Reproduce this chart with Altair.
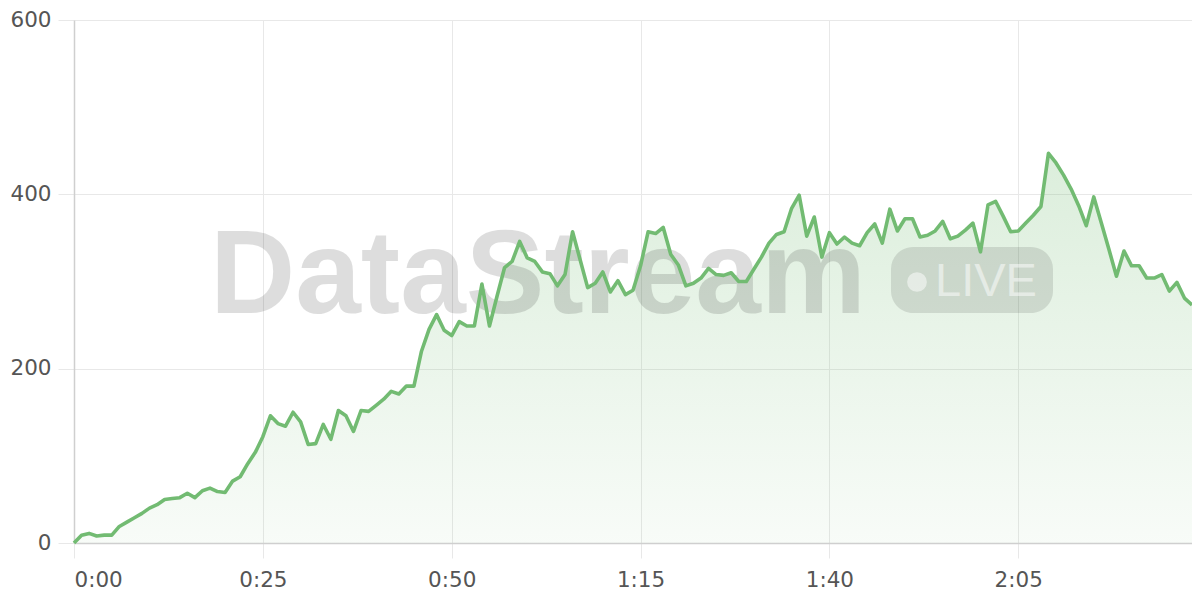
import altair as alt
import pandas as pd

# seconds elapsed (one sample per second)
t = list(range(149))
values = [
    0, 9, 11, 8, 9, 9, 19, 24, 29, 34,
    40, 44, 50, 51, 52, 57, 52, 60, 63, 59,
    58, 71, 76, 91, 104, 122, 146, 137, 134, 150,
    139, 113, 114, 136, 119, 152, 146, 128, 152, 151,
    158, 165, 174, 171, 180, 180, 220, 245, 262, 244,
    238, 254, 249, 249, 297, 249, 283, 316, 323, 346,
    327, 323, 311, 309, 295, 308, 357, 325, 293, 298,
    311, 288, 301, 285, 290, 318, 357, 355, 362, 331,
    319, 295, 298, 304, 315, 308, 307, 310, 300, 300,
    314, 328, 344, 354, 357, 384, 399, 352, 374, 328,
    356, 343, 351, 344, 341, 356, 366, 344, 383, 358,
    372, 372, 351, 353, 358, 369, 349, 352, 359, 367,
    334, 388, 392, 375, 357, 358, 367, 376, 386, 447,
    436, 422, 406, 387, 364, 397, 367, 337, 306, 335,
    318, 318, 304, 304, 308, 289, 299, 281, 273,
]
x_ticks = [0, 25, 50, 75, 100, 125]
y_ticks = [0, 200, 400, 600]

df = pd.DataFrame({"t": t, "v": values})

GREEN = "#72bb72"
W, H = 1118, 523

x_enc = alt.X(
    "t:Q",
    scale=alt.Scale(domain=[0, 148], nice=False, zero=False),
    axis=alt.Axis(
        values=x_ticks,
        labelExpr="floor(datum.value/60) + ':' + (datum.value % 60 < 10 ? '0' : '') + (datum.value % 60)",
        title=None,
        tickSize=15,
        labelPadding=11,
    ),
)
y_enc = alt.Y(
    "v:Q",
    scale=alt.Scale(domain=[0, 600], nice=False),
    axis=alt.Axis(values=y_ticks, title=None, tickSize=16, labelPadding=7),
)

area = alt.Chart(df).mark_area(
    color=alt.Gradient(
        gradient="linear",
        stops=[
            alt.GradientStop(color="rgba(114,187,114,0.25)", offset=0),
            alt.GradientStop(color="rgba(114,187,114,0.05)", offset=1),
        ],
        x1=1, x2=1, y1=0, y2=1,
    ),
).encode(x=x_enc, y=y_enc)

line = alt.Chart(df).mark_line(
    color=GREEN, strokeWidth=3.6, strokeJoin="round"
).encode(x="t:Q", y="v:Q")

one = alt.Data(values=[{"k": 1}])

wm_text = alt.Chart(one).mark_text(
    text="DataStream", font="Liberation Sans", fontWeight="bold", fontSize=118,
    align="left", baseline="alphabetic", color="black", opacity=0.13,
).encode(x=alt.value(136), y=alt.value(293))

pill = alt.Chart(one).mark_rect(
    cornerRadius=22, color="black", opacity=0.11,
).encode(x=alt.value(817), x2=alt.value(979), y=alt.value(227), y2=alt.value(293))

dot = alt.Chart(one).mark_circle(
    size=390, color="white", opacity=0.5,
).encode(x=alt.value(843), y=alt.value(262))

live = alt.Chart(one).mark_text(
    text="LIVE", font="Liberation Sans", fontSize=47,
    align="left", baseline="alphabetic", color="white", opacity=0.5,
).encode(x=alt.value(861), y=alt.value(276))

chart = alt.layer(area, wm_text, pill, dot, live, line).properties(
    width=W, height=H,
    autosize=alt.AutoSizeParams(type="none"),
    padding={"left": 66, "top": 12, "right": 0, "bottom": 49},
).configure_view(stroke=None).configure_axis(
    grid=True,
    gridColor="#e8e8e8",
    gridWidth=1,
    tickColor="#e8e8e8",
    domainColor="#cfcfcf",
    domainWidth=1.5,
    labelFont="DejaVu Sans",
    labelFontSize=21.5,
    labelColor="#555555",
)

chart.save("out.html", embed_options={"renderer": "svg", "actions": False})
